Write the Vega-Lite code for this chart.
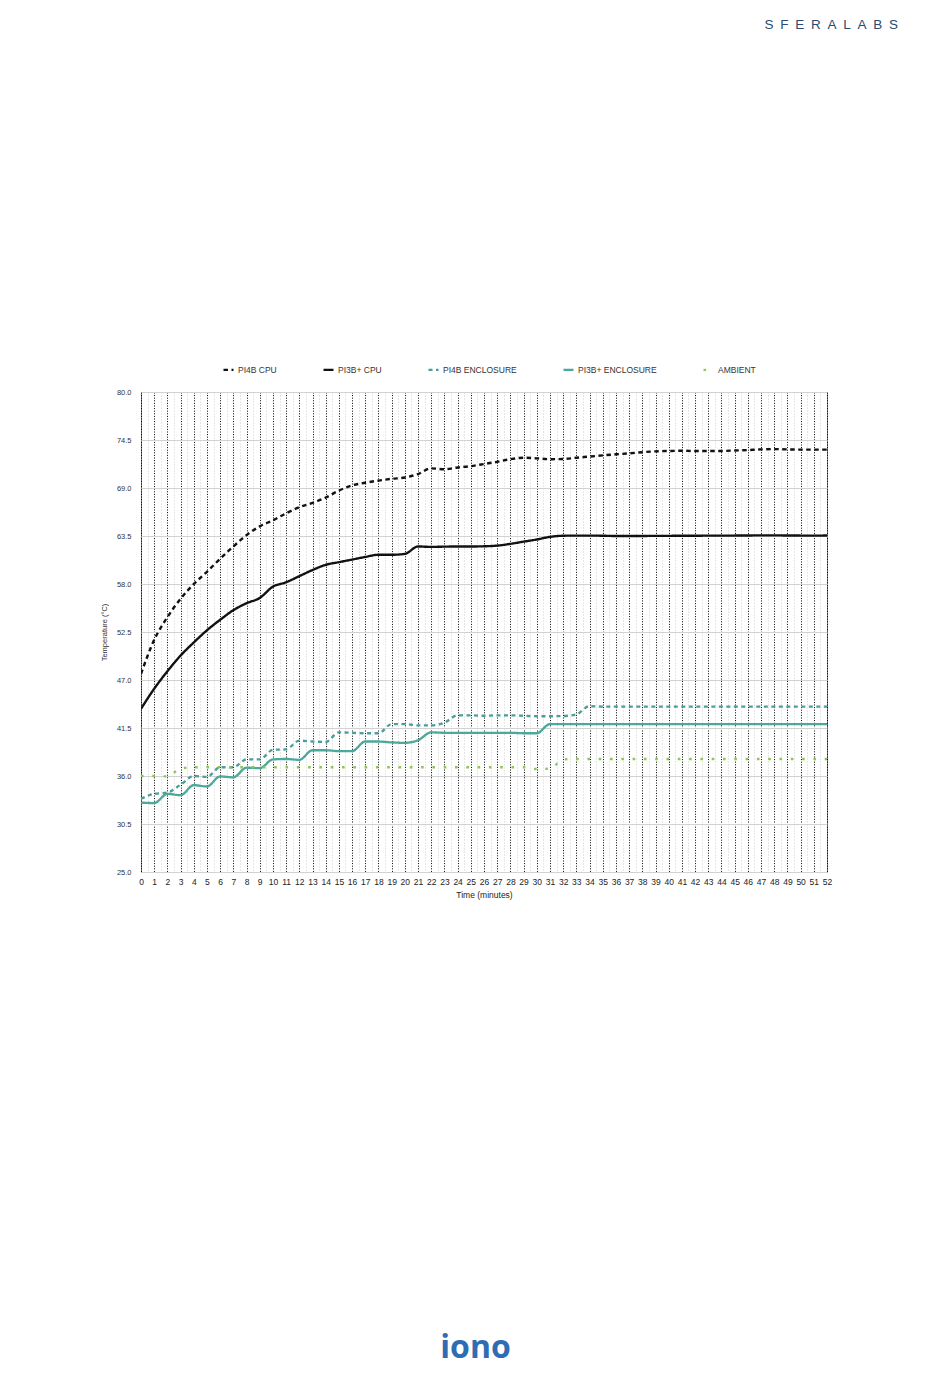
{
  "$schema": "https://vega.github.io/schema/vega-lite/v6.json",
  "autosize": {"type": "none"},
  "width": 686,
  "height": 480,
  "padding": {"left": 141, "top": 392, "right": 123, "bottom": 515},
  "background": "#ffffff",
  "title": {
    "text": "S\u2002F\u2002E\u2002R\u2002A\u2002L\u2002A\u2002B\u2002S",
    "anchor": "end",
    "frame": "group",
    "orient": "top",
    "offset": 332,
    "dx": 71,
    "fontSize": 13.5,
    "fontWeight": "normal",
    "font": "Liberation Sans",
    "color": "#2a4b6e"
  },
  "config": {
    "view": {"stroke": "#7a7a7a", "strokeWidth": 1},
    "font": "Liberation Sans"
  },
  "data": {
    "values": [
      {"t":0,"PI4B CPU":47.7,"PI3B+ CPU":43.7,"PI4B ENCLOSURE":33.4,"PI3B+ ENCLOSURE":32.95,"AMBIENT":36.0},
      {"t":1,"PI4B CPU":51.6,"PI3B+ CPU":46.0,"PI4B ENCLOSURE":33.95,"PI3B+ ENCLOSURE":32.9,"AMBIENT":36.0},
      {"t":2,"PI4B CPU":54.2,"PI3B+ CPU":48.0,"PI4B ENCLOSURE":34.1,"PI3B+ ENCLOSURE":33.95,"AMBIENT":35.95},
      {"t":3,"PI4B CPU":56.3,"PI3B+ CPU":49.8,"PI4B ENCLOSURE":35.0,"PI3B+ ENCLOSURE":33.8,"AMBIENT":36.85},
      {"t":4,"PI4B CPU":58.0,"PI3B+ CPU":51.3,"PI4B ENCLOSURE":36.0,"PI3B+ ENCLOSURE":34.95,"AMBIENT":37.0},
      {"t":5,"PI4B CPU":59.4,"PI3B+ CPU":52.7,"PI4B ENCLOSURE":35.9,"PI3B+ ENCLOSURE":34.8,"AMBIENT":37.0},
      {"t":6,"PI4B CPU":60.9,"PI3B+ CPU":53.9,"PI4B ENCLOSURE":37.0,"PI3B+ ENCLOSURE":35.95,"AMBIENT":37.0},
      {"t":7,"PI4B CPU":62.3,"PI3B+ CPU":55.0,"PI4B ENCLOSURE":37.0,"PI3B+ ENCLOSURE":35.85,"AMBIENT":37.0},
      {"t":8,"PI4B CPU":63.6,"PI3B+ CPU":55.8,"PI4B ENCLOSURE":37.9,"PI3B+ ENCLOSURE":36.95,"AMBIENT":37.0},
      {"t":9,"PI4B CPU":64.6,"PI3B+ CPU":56.4,"PI4B ENCLOSURE":37.9,"PI3B+ ENCLOSURE":36.9,"AMBIENT":37.0},
      {"t":10,"PI4B CPU":65.3,"PI3B+ CPU":57.7,"PI4B ENCLOSURE":39.0,"PI3B+ ENCLOSURE":37.9,"AMBIENT":37.0},
      {"t":11,"PI4B CPU":66.1,"PI3B+ CPU":58.2,"PI4B ENCLOSURE":39.05,"PI3B+ ENCLOSURE":37.95,"AMBIENT":37.0},
      {"t":12,"PI4B CPU":66.8,"PI3B+ CPU":58.9,"PI4B ENCLOSURE":40.05,"PI3B+ ENCLOSURE":37.85,"AMBIENT":37.0},
      {"t":13,"PI4B CPU":67.3,"PI3B+ CPU":59.6,"PI4B ENCLOSURE":39.95,"PI3B+ ENCLOSURE":38.95,"AMBIENT":37.0},
      {"t":14,"PI4B CPU":67.9,"PI3B+ CPU":60.2,"PI4B ENCLOSURE":39.9,"PI3B+ ENCLOSURE":38.95,"AMBIENT":37.0},
      {"t":15,"PI4B CPU":68.7,"PI3B+ CPU":60.5,"PI4B ENCLOSURE":41.0,"PI3B+ ENCLOSURE":38.85,"AMBIENT":37.0},
      {"t":16,"PI4B CPU":69.3,"PI3B+ CPU":60.8,"PI4B ENCLOSURE":40.95,"PI3B+ ENCLOSURE":38.85,"AMBIENT":37.0},
      {"t":17,"PI4B CPU":69.6,"PI3B+ CPU":61.1,"PI4B ENCLOSURE":40.9,"PI3B+ ENCLOSURE":39.95,"AMBIENT":37.0},
      {"t":18,"PI4B CPU":69.85,"PI3B+ CPU":61.35,"PI4B ENCLOSURE":40.9,"PI3B+ ENCLOSURE":39.95,"AMBIENT":37.0},
      {"t":19,"PI4B CPU":70.05,"PI3B+ CPU":61.35,"PI4B ENCLOSURE":41.95,"PI3B+ ENCLOSURE":39.85,"AMBIENT":37.0},
      {"t":20,"PI4B CPU":70.2,"PI3B+ CPU":61.45,"PI4B ENCLOSURE":41.95,"PI3B+ ENCLOSURE":39.8,"AMBIENT":37.0},
      {"t":21,"PI4B CPU":70.6,"PI3B+ CPU":62.3,"PI4B ENCLOSURE":41.8,"PI3B+ ENCLOSURE":40.1,"AMBIENT":37.0},
      {"t":22,"PI4B CPU":71.25,"PI3B+ CPU":62.25,"PI4B ENCLOSURE":41.8,"PI3B+ ENCLOSURE":41.0,"AMBIENT":37.0},
      {"t":23,"PI4B CPU":71.15,"PI3B+ CPU":62.28,"PI4B ENCLOSURE":42.1,"PI3B+ ENCLOSURE":40.95,"AMBIENT":37.0},
      {"t":24,"PI4B CPU":71.35,"PI3B+ CPU":62.3,"PI4B ENCLOSURE":42.95,"PI3B+ ENCLOSURE":40.95,"AMBIENT":37.0},
      {"t":25,"PI4B CPU":71.5,"PI3B+ CPU":62.3,"PI4B ENCLOSURE":42.95,"PI3B+ ENCLOSURE":40.95,"AMBIENT":37.0},
      {"t":26,"PI4B CPU":71.75,"PI3B+ CPU":62.32,"PI4B ENCLOSURE":42.9,"PI3B+ ENCLOSURE":40.95,"AMBIENT":37.0},
      {"t":27,"PI4B CPU":72.0,"PI3B+ CPU":62.4,"PI4B ENCLOSURE":42.95,"PI3B+ ENCLOSURE":40.95,"AMBIENT":37.0},
      {"t":28,"PI4B CPU":72.3,"PI3B+ CPU":62.6,"PI4B ENCLOSURE":42.95,"PI3B+ ENCLOSURE":40.95,"AMBIENT":37.0},
      {"t":29,"PI4B CPU":72.47,"PI3B+ CPU":62.85,"PI4B ENCLOSURE":42.9,"PI3B+ ENCLOSURE":40.9,"AMBIENT":37.0},
      {"t":30,"PI4B CPU":72.4,"PI3B+ CPU":63.1,"PI4B ENCLOSURE":42.85,"PI3B+ ENCLOSURE":40.9,"AMBIENT":36.8},
      {"t":31,"PI4B CPU":72.3,"PI3B+ CPU":63.4,"PI4B ENCLOSURE":42.85,"PI3B+ ENCLOSURE":41.95,"AMBIENT":36.85},
      {"t":32,"PI4B CPU":72.32,"PI3B+ CPU":63.53,"PI4B ENCLOSURE":42.87,"PI3B+ ENCLOSURE":41.95,"AMBIENT":37.9},
      {"t":33,"PI4B CPU":72.47,"PI3B+ CPU":63.55,"PI4B ENCLOSURE":43.06,"PI3B+ ENCLOSURE":41.95,"AMBIENT":37.95},
      {"t":34,"PI4B CPU":72.6,"PI3B+ CPU":63.55,"PI4B ENCLOSURE":44.0,"PI3B+ ENCLOSURE":41.95,"AMBIENT":37.95},
      {"t":35,"PI4B CPU":72.74,"PI3B+ CPU":63.53,"PI4B ENCLOSURE":43.95,"PI3B+ ENCLOSURE":41.95,"AMBIENT":37.95},
      {"t":36,"PI4B CPU":72.86,"PI3B+ CPU":63.5,"PI4B ENCLOSURE":43.95,"PI3B+ ENCLOSURE":41.95,"AMBIENT":37.95},
      {"t":37,"PI4B CPU":72.97,"PI3B+ CPU":63.5,"PI4B ENCLOSURE":43.95,"PI3B+ ENCLOSURE":41.95,"AMBIENT":37.95},
      {"t":38,"PI4B CPU":73.1,"PI3B+ CPU":63.5,"PI4B ENCLOSURE":43.95,"PI3B+ ENCLOSURE":41.95,"AMBIENT":37.95},
      {"t":39,"PI4B CPU":73.2,"PI3B+ CPU":63.52,"PI4B ENCLOSURE":43.95,"PI3B+ ENCLOSURE":41.95,"AMBIENT":37.95},
      {"t":40,"PI4B CPU":73.24,"PI3B+ CPU":63.52,"PI4B ENCLOSURE":43.95,"PI3B+ ENCLOSURE":41.95,"AMBIENT":37.95},
      {"t":41,"PI4B CPU":73.27,"PI3B+ CPU":63.53,"PI4B ENCLOSURE":43.95,"PI3B+ ENCLOSURE":41.95,"AMBIENT":37.95},
      {"t":42,"PI4B CPU":73.24,"PI3B+ CPU":63.53,"PI4B ENCLOSURE":43.95,"PI3B+ ENCLOSURE":41.95,"AMBIENT":37.95},
      {"t":43,"PI4B CPU":73.24,"PI3B+ CPU":63.54,"PI4B ENCLOSURE":43.95,"PI3B+ ENCLOSURE":41.95,"AMBIENT":37.95},
      {"t":44,"PI4B CPU":73.24,"PI3B+ CPU":63.54,"PI4B ENCLOSURE":43.95,"PI3B+ ENCLOSURE":41.95,"AMBIENT":37.95},
      {"t":45,"PI4B CPU":73.3,"PI3B+ CPU":63.55,"PI4B ENCLOSURE":43.95,"PI3B+ ENCLOSURE":41.95,"AMBIENT":37.95},
      {"t":46,"PI4B CPU":73.35,"PI3B+ CPU":63.56,"PI4B ENCLOSURE":43.95,"PI3B+ ENCLOSURE":41.95,"AMBIENT":37.95},
      {"t":47,"PI4B CPU":73.42,"PI3B+ CPU":63.57,"PI4B ENCLOSURE":43.95,"PI3B+ ENCLOSURE":41.95,"AMBIENT":37.95},
      {"t":48,"PI4B CPU":73.46,"PI3B+ CPU":63.57,"PI4B ENCLOSURE":43.95,"PI3B+ ENCLOSURE":41.95,"AMBIENT":37.95},
      {"t":49,"PI4B CPU":73.42,"PI3B+ CPU":63.56,"PI4B ENCLOSURE":43.95,"PI3B+ ENCLOSURE":41.95,"AMBIENT":37.95},
      {"t":50,"PI4B CPU":73.4,"PI3B+ CPU":63.55,"PI4B ENCLOSURE":43.95,"PI3B+ ENCLOSURE":41.95,"AMBIENT":37.95},
      {"t":51,"PI4B CPU":73.4,"PI3B+ CPU":63.54,"PI4B ENCLOSURE":43.95,"PI3B+ ENCLOSURE":41.95,"AMBIENT":37.95},
      {"t":52,"PI4B CPU":73.4,"PI3B+ CPU":63.56,"PI4B ENCLOSURE":43.95,"PI3B+ ENCLOSURE":41.95,"AMBIENT":37.95}
    ]
  },
  "resolve": {"scale": {"y": "independent"}},
  "layer": [
    {
      "transform": [
        {"fold": ["PI4B CPU", "PI3B+ CPU", "PI4B ENCLOSURE", "PI3B+ ENCLOSURE", "AMBIENT"], "as": ["series", "temp"]}
      ],
      "mark": {"type": "line", "interpolate": "monotone", "strokeCap": "butt", "clip": true},
      "encoding": {
        "x": {
          "field": "t", "type": "quantitative",
          "scale": {"domain": [0, 52], "nice": false, "zero": false},
          "axis": {
            "tickCount": 104,
            "labelExpr": "datum.value % 1 === 0 ? format(datum.value, 'd') : ''",
            "labelOverlap": false,
            "labelFlush": false,
            "labelBound": false,
            "labelFontSize": 8.5,
            "labelColor": "#222",
            "labelPadding": 5,
            "ticks": false,
            "tickSize": 0,
            "domain": false,
            "grid": true,
            "gridDash": {"condition": {"test": "datum.value % 1 === 0", "value": [1, 1.6]}, "value": [1, 2]},
            "gridWidth": 1,
            "gridColor": {"condition": {"test": "datum.value % 1 === 0", "value": "#000000"}, "value": "#cfcfcf"},
            "gridOpacity": 1,
            "title": "Time (minutes)",
            "titleFontSize": 8.5,
            "titleFontWeight": "normal",
            "titleColor": "#222",
            "titlePadding": 5
          }
        },
        "y": {
          "field": "temp", "type": "quantitative",
          "scale": {"domain": [25, 80], "nice": false, "zero": false},
          "axis": {
            "values": [25, 30.5, 36, 41.5, 47, 52.5, 58, 63.5, 69, 74.5, 80],
            "format": ".1f",
            "labelFontSize": 7.5,
            "labelColor": "#333333",
            "labelPadding": 10,
            "ticks": false,
            "tickSize": 0,
            "domain": false,
            "grid": true,
            "gridColor": "#d2d2d2",
            "gridWidth": 1,
            "title": "Temperature (°C)",
            "titleFontSize": 7.5,
            "titleFontWeight": "normal",
            "titleColor": "#333333",
            "titlePadding": 8
          }
        },
        "color": {
          "field": "series", "type": "nominal",
          "scale": {
            "domain": ["PI4B CPU", "PI3B+ CPU", "PI4B ENCLOSURE", "PI3B+ ENCLOSURE", "AMBIENT"],
            "range": ["#111111", "#111111", "#4b9e99", "#4aa99b", "#8cc653"]
          },
          "legend": {
            "orient": "none",
            "legendX": 81,
            "legendY": -29,
            "direction": "horizontal",
            "title": null,
            "symbolType": "stroke",
            "symbolSize": 100,
            "symbolStrokeWidth": 1.3,
            "labelFontSize": 8.5,
            "labelColor": "#333",
            "labelOffset": 3,
            "columnPadding": 41
          }
        },
        "strokeDash": {
          "field": "series", "type": "nominal",
          "scale": {
            "domain": ["PI4B CPU", "PI3B+ CPU", "PI4B ENCLOSURE", "PI3B+ ENCLOSURE", "AMBIENT"],
            "range": [[4.5, 3.5], [1, 0], [4, 3.5], [1, 0], [2.6, 8.7]]
          },
          "legend": {
            "orient": "none",
            "legendX": 81,
            "legendY": -29,
            "direction": "horizontal",
            "title": null
          }
        },
        "strokeWidth": {
          "field": "series", "type": "nominal",
          "scale": {
            "domain": ["PI4B CPU", "PI3B+ CPU", "PI4B ENCLOSURE", "PI3B+ ENCLOSURE", "AMBIENT"],
            "range": [2.4, 2.3, 2.0, 2.2, 3.0]
          },
          "legend": null
        }
      }
    },
    {
      "mark": {"type": "rule", "opacity": 0},
      "encoding": {
        "y": {
          "datum": 25, "type": "quantitative",
          "scale": {"domain": [25, 80], "nice": false, "zero": false},
          "axis": {
            "orient": "right",
            "labels": false,
            "ticks": false,
            "domain": false,
            "grid": false,
            "title": "iono",
            "titleAngle": 0,
            "titleX": -352,
            "titleY": 955,
            "titleAlign": "center",
            "titleBaseline": "middle",
            "titleFont": "Open Sans",
            "titleFontSize": 32,
            "titleFontWeight": "bold",
            "titleColor": "#2e6db4"
          }
        }
      }
    }
  ]
}
